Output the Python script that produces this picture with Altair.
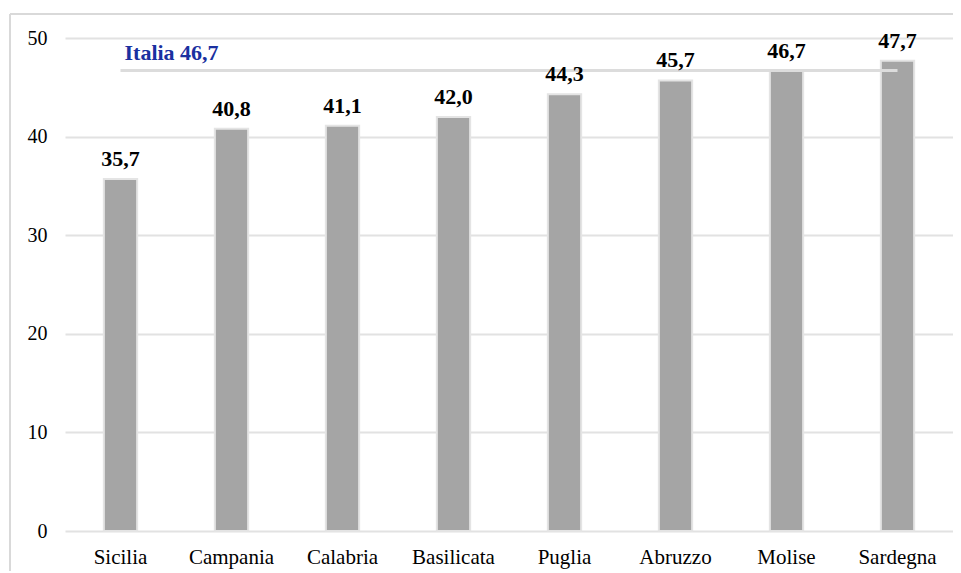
import altair as alt
import pandas as pd

regions = ["Sicilia", "Campania", "Calabria", "Basilicata", "Puglia", "Abruzzo", "Molise", "Sardegna"]
values = [35.7, 40.8, 41.1, 42.0, 44.3, 45.7, 46.7, 47.7]
italia_value = 46.7
italia_label = "Italia 46,7"
y_ticks = [0, 10, 20, 30, 40, 50]

df = pd.DataFrame({
    "regione": regions,
    "valore": values,
    "etichetta": [f"{v:.1f}".replace(".", ",") for v in values],
})
ref = pd.DataFrame({"regione": [regions[0]], "fine": [regions[-1]], "valore": [italia_value], "label": [italia_label]})

FONT = "Liberation Serif"

x_enc = alt.X("regione:N", title=None,
              scale=alt.Scale(domain=regions, paddingInner=0.70, paddingOuter=0.35),
              axis=alt.Axis(labelAngle=0, ticks=False, domain=False, labelFontSize=21,
                            labelFont=FONT, labelColor="#000000", labelPadding=15))
y_enc = alt.Y("valore:Q", title=None,
              scale=alt.Scale(domain=[0, 50], nice=False),
              axis=alt.Axis(values=y_ticks, ticks=False, domain=False, labelFontSize=20,
                            labelFont=FONT, labelColor="#000000", labelPadding=18,
                            gridColor="#e2e2e2", gridWidth=2))

bars = alt.Chart(df).mark_bar(color="#a5a5a5", stroke="#e4e4e4", strokeWidth=2).encode(
    x=x_enc, y=y_enc
)

labels = alt.Chart(df).mark_text(font=FONT, fontSize=22, fontWeight="bold", color="#000000",
                                  dy=-13, baseline="alphabetic").encode(
    x=alt.X("regione:N"),
    y=alt.Y("valore:Q"),
    text="etichetta:N",
)

ref_line = alt.Chart(ref).mark_rule(color="#dcdcdc", strokeWidth=3).encode(
    x=alt.X("regione:N"),
    x2="fine:N",
    y=alt.Y("valore:Q"),
)

ref_text = alt.Chart(ref).mark_text(font=FONT, fontSize=22, fontWeight="bold", color="#1a30a0",
                                    align="left", baseline="alphabetic", dx=4, dy=-11).encode(
    x=alt.X("regione:N"),
    y=alt.Y("valore:Q"),
    text="label:N",
)

frame_top = alt.Chart(df).mark_rule(color="#d9d9d9", strokeWidth=2).encode(
    x=alt.value(-55), x2=alt.value(900), y=alt.value(-24)
)
frame_left = alt.Chart(df).mark_rule(color="#d9d9d9", strokeWidth=2).encode(
    x=alt.value(-55), y=alt.value(-24), y2=alt.value(560)
)

chart = alt.layer(bars, ref_line, labels, ref_text, frame_top, frame_left).properties(
    width=888, height=493,
    autosize=alt.AutoSizeParams(type="none"),
    padding={"left": 57, "top": 30, "right": 0, "bottom": 40},
    background="#ffffff",
).configure_view(strokeWidth=0)

chart.save("out.html", embed_options={"renderer": "svg", "actions": False})
